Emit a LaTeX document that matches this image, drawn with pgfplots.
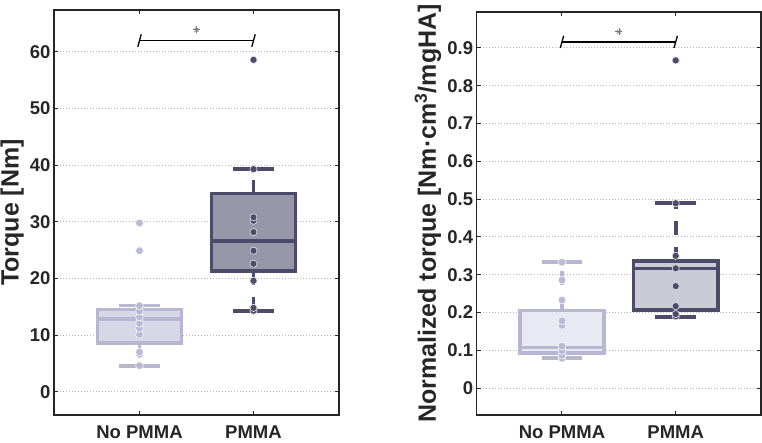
\documentclass[border=0pt]{standalone}
\usepackage{fontspec}
\setmainfont{Liberation Sans}
\usepackage{pgfplots}
\pgfplotsset{compat=1.18}

\definecolor{npEdge}{RGB}{183,183,210}
\definecolor{npFillA}{RGB}{215,215,232}
\definecolor{npFillB}{RGB}{233,233,244}
\definecolor{npMark}{RGB}{186,186,213}
\definecolor{pmEdge}{RGB}{76,76,106}
\definecolor{pmFillA}{RGB}{150,150,168}
\definecolor{pmFillB}{RGB}{203,203,213}
\definecolor{axisgray}{RGB}{38,38,38}
\definecolor{gridgray}{RGB}{185,185,185}
\definecolor{stargray}{RGB}{120,120,120}

\pgfplotsset{
  panel/.style={
    scale only axis,
    anchor=south west,
    xmin=0.25, xmax=2.75,
    xtick={1,2},
    xticklabels={No PMMA,PMMA},
    tick align=inside,
    major tick length=4pt,
    tick style={axisgray, line width=1pt},
    axis line style={axisgray, line width=1.4pt},
    ymajorgrids,
    major grid style={gridgray, line width=0.9pt, dash pattern=on 1pt off 2pt},
    /pgf/number format/assume math mode=true,
    ticklabel style={font=\bfseries\fontsize{18.5}{20}\selectfont, text=axisgray},
    xticklabel style={yshift=-7pt},
    label style={font=\bfseries\fontsize{25}{27}\selectfont, text=axisgray},
  },
  % box outline, median, whisker and cap styles
  boxframe/.style 2 args={draw=#1, fill=#2, line width=3.6pt, line join=miter},
  boxline/.style={draw=#1, line width=3.6pt},
  whisk/.style={draw=#1, line width=3.6pt, dash pattern=on 14pt off 12pt},
  pts np/.style={only marks, mark=*, mark size=3.9pt,
    mark options={fill=npMark, draw=white, line width=0.5pt}},
  pts pm/.style={only marks, mark=*, mark size=3.6pt,
    mark options={fill=pmEdge, draw=white!85!pmEdge, line width=0.6pt}},
  sig/.style={black, line width=1.3pt},
}

\begin{document}
\begin{tikzpicture}
\path[use as bounding box] (0,0) rectangle (762pt,442pt);

% ---- Torque ----
\begin{axis}[panel,
  at={(54pt,27pt)}, width=285pt, height=405pt,
  ymin=-4.1, ymax=67.4,
  ytick={0,10,...,60},
  ylabel={Torque [Nm]},
  ylabel style={at={(axis description cs:-0.147,0.5)}, anchor=center},
]
% No PMMA: whiskers 4.6 / 15.2, quartiles 8.6 / 14.5, median 12.8
\addplot[whisk=npEdge] coordinates {(1,8.6) (1,4.6)};
\addplot[whisk=npEdge] coordinates {(1,14.5) (1,15.2)};
\addplot[boxline=npEdge] coordinates {(0.82,4.6) (1.18,4.6)};
\addplot[boxline=npEdge] coordinates {(0.82,15.2) (1.18,15.2)};
\addplot[boxframe={npEdge}{npFillA}] coordinates {(0.63,8.6) (1.37,8.6) (1.37,14.5) (0.63,14.5)} -- cycle;
\addplot[boxline=npEdge] coordinates {(0.63,12.8) (1.37,12.8)};
% PMMA: whiskers 14.3 / 39.3, quartiles 21.3 / 35.0, median 26.6
\addplot[whisk=pmEdge] coordinates {(2,21.3) (2,14.3)};
\addplot[whisk=pmEdge] coordinates {(2,35.0) (2,39.3)};
\addplot[boxline=pmEdge] coordinates {(1.82,14.3) (2.18,14.3)};
\addplot[boxline=pmEdge] coordinates {(1.82,39.3) (2.18,39.3)};
\addplot[boxframe={pmEdge}{pmFillA}] coordinates {(1.63,21.3) (2.37,21.3) (2.37,35.0) (1.63,35.0)} -- cycle;
\addplot[boxline=pmEdge] coordinates {(1.63,26.6) (2.37,26.6)};
% individual samples
\addplot[pts np] coordinates {
  (1,4.6) (1,6.6) (1,7.0) (1,10.1) (1,11.2) (1,12.1) (1,13.2)
  (1,14.2) (1,15.2) (1,24.9) (1,29.8)};
\addplot[pts pm] coordinates {
  (2,14.3) (2,14.8) (2,19.6) (2,22.6) (2,24.9) (2,28.2)
  (2,30.2) (2,30.8) (2,39.3) (2,58.6)};
% significance bracket
\addplot[sig] coordinates {(1,62.0) (2,62.0)};
\addplot[sig] coordinates {(0.985,60.9) (1.015,63.1)};
\addplot[sig] coordinates {(1.985,60.9) (2.015,63.1)};
\addplot[only marks, mark=+, mark size=3.5pt, stargray, mark options={line width=0.7pt}] coordinates {(1.5,63.9)};
\addplot[only marks, mark=x, mark size=2.8pt, stargray, mark options={line width=0.7pt}] coordinates {(1.5,63.9)};
\end{axis}

% ---- Normalized torque ----
\begin{axis}[panel,
  at={(476.7pt,27pt)}, width=284.3pt, height=403pt,
  ymin=-0.071, ymax=0.995,
  ytick={0,0.1,...,0.9},
  yticklabel style={/pgf/number format/fixed, /pgf/number format/precision=1},
  ylabel={Normalized torque [Nm·cm\textsuperscript{3}/mgHA]},
  ylabel style={at={(axis description cs:-0.172,0.5)}, anchor=center},
]
% No PMMA: whiskers 0.079 / 0.333, quartiles 0.093 / 0.205, median 0.108
\addplot[whisk=npEdge] coordinates {(1,0.093) (1,0.079)};
\addplot[whisk=npEdge] coordinates {(1,0.205) (1,0.333)};
\addplot[boxline=npEdge] coordinates {(0.82,0.079) (1.18,0.079)};
\addplot[boxline=npEdge] coordinates {(0.82,0.333) (1.18,0.333)};
\addplot[boxframe={npEdge}{npFillB}] coordinates {(0.63,0.093) (1.37,0.093) (1.37,0.205) (0.63,0.205)} -- cycle;
\addplot[boxline=npEdge] coordinates {(0.63,0.108) (1.37,0.108)};
% PMMA: whiskers 0.189 / 0.489, quartiles 0.207 / 0.336, median 0.317
\addplot[whisk=pmEdge] coordinates {(2,0.207) (2,0.189)};
\addplot[whisk=pmEdge] coordinates {(2,0.336) (2,0.489)};
\addplot[boxline=pmEdge] coordinates {(1.82,0.189) (2.18,0.189)};
\addplot[boxline=pmEdge] coordinates {(1.82,0.489) (2.18,0.489)};
\addplot[boxframe={pmEdge}{pmFillB}] coordinates {(1.63,0.207) (2.37,0.207) (2.37,0.336) (1.63,0.336)} -- cycle;
\addplot[boxline=pmEdge] coordinates {(1.63,0.317) (2.37,0.317)};
% individual samples
\addplot[pts np] coordinates {
  (1,0.079) (1,0.087) (1,0.099) (1,0.111) (1,0.166) (1,0.178)
  (1,0.233) (1,0.286) (1,0.333)};
\addplot[pts pm] coordinates {
  (2,0.190) (2,0.196) (2,0.217) (2,0.270) (2,0.317) (2,0.350)
  (2,0.489) (2,0.867)};
% significance bracket
\addplot[sig] coordinates {(1,0.916) (2,0.916)};
\addplot[sig] coordinates {(0.985,0.900) (1.015,0.932)};
\addplot[sig] coordinates {(1.985,0.900) (2.015,0.932)};
\addplot[only marks, mark=+, mark size=3.5pt, stargray, mark options={line width=0.7pt}] coordinates {(1.5,0.943)};
\addplot[only marks, mark=x, mark size=2.8pt, stargray, mark options={line width=0.7pt}] coordinates {(1.5,0.943)};
\end{axis}
\end{tikzpicture}
\end{document}
